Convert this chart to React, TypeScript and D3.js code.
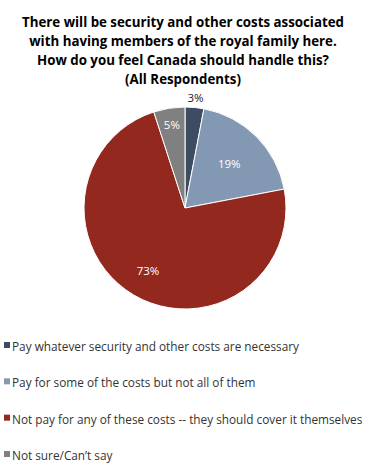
import React from "react";
import * as d3 from "d3";

const categories = [
  "Pay whatever security and other costs are necessary",
  "Pay for some of the costs but not all of them",
  "Not pay for any of these costs -- they should cover it themselves",
  "Not sure/Can\u2019t say",
];
const values = [3, 19, 73, 5];
const colors = ["#3d4c62", "#8398b3", "#93281f", "#808080"];
const titleLines = [
  "There will be security and other costs associated",
  "with having members of the royal family here.",
  "How do you feel Canada should handle this?",
  "(All Respondents)",
];

export default function App() {
  const W = 372, H = 473;
  const cx = 185, cy = 208, r = 101;
  const pie = d3.pie<number>().sort(null).value((d) => d)(values);
  const arc = d3.arc<d3.PieArcDatum<number>>().innerRadius(0).outerRadius(r);
  const labelArcs = [
    d3.arc<any>().innerRadius(r + 10).outerRadius(r + 10),
    d3.arc<any>().innerRadius(r * 0.62).outerRadius(r * 0.62),
    d3.arc<any>().innerRadius(r * 0.72).outerRadius(r * 0.72),
    d3.arc<any>().innerRadius(r * 0.83).outerRadius(r * 0.83),
  ];
  const legendY = d3.scalePoint<number>().domain(d3.range(categories.length)).range([347, 456]);
  const font = "'Open Sans', sans-serif";
  return (
    <svg width={W} height={H} style={{ position: "absolute", left: 0, top: 0, background: "#fff" }}>
      <g fontFamily={font} fontWeight="bold" fontSize={13.3} fill="#000" textAnchor="middle">
        {titleLines.map((t, i) => (
          <text key={i} x={183} y={27 + i * 19}>{t}</text>
        ))}
      </g>
      <g transform={`translate(${cx},${cy})`}>
        {pie.map((p, i) => (
          <path key={i} d={arc(p) || ""} fill={colors[i]} stroke="#fff" strokeWidth={1} />
        ))}
        {pie.map((p, i) => {
          const [x, y] = labelArcs[i].centroid(p);
          return (
            <text key={"l" + i} x={x} y={y} dy="0.35em" textAnchor="middle" fontFamily={font}
              fontSize={11.5} fill={i === 0 ? "#222" : "#fff"}>{values[i]}%</text>
          );
        })}
      </g>
      <g fontFamily={font} fontSize={11.8} fill="#333">
        {categories.map((c, i) => (
          <g key={i} transform={`translate(0,${legendY(i)})`}>
            <rect x={4} y={-5} width={6} height={6} fill={colors[i]} />
            <text x={12} y={0} dy="0.35em">{c}</text>
          </g>
        ))}
      </g>
    </svg>
  );
}
